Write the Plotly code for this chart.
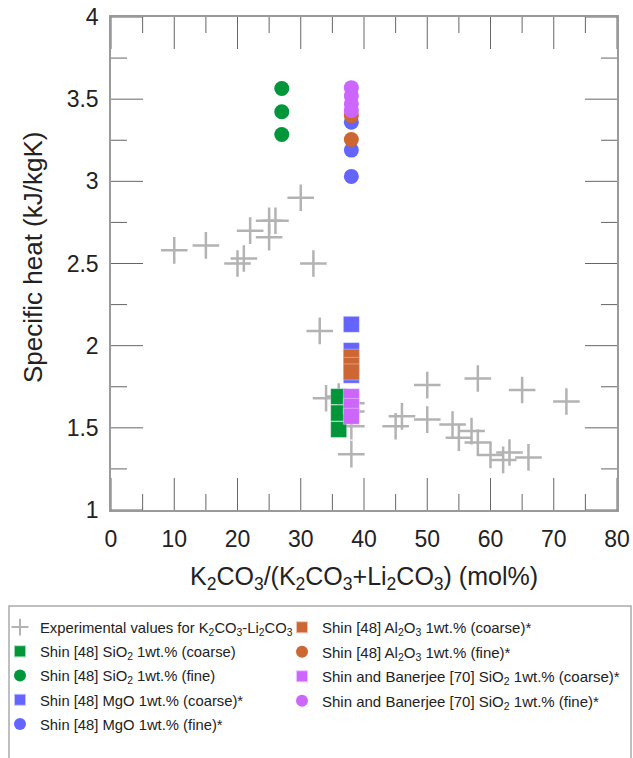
import plotly.graph_objects as go

# Experimental specific heat of K2CO3-Li2CO3 mixtures
exp_x = [10, 15, 20, 21, 22, 25, 25, 26, 30, 32, 33, 34, 36, 38, 38, 38, 38,
         45, 46, 50, 50, 54, 55, 57, 58, 58, 60, 62, 63, 65, 66, 72]
exp_y = [2.58, 2.61, 2.50, 2.53, 2.70, 2.66, 2.76, 2.76, 2.90, 2.50, 2.09, 1.68, 1.69, 1.60, 1.65, 1.51, 1.34,
         1.51, 1.57, 1.76, 1.55, 1.52, 1.44, 1.48, 1.41, 1.80, 1.335, 1.305, 1.35, 1.73, 1.32, 1.66]

# Nanofluid measurements (Shin [48], Shin and Banerjee [70])
sio2_coarse_x = [36, 36, 36]
sio2_coarse_y = [1.69, 1.59, 1.49]
sio2_fine_x = [27, 27, 27]
sio2_fine_y = [3.565, 3.423, 3.285]
mgo_coarse_x = [38, 38, 38, 38]
mgo_coarse_y = [2.13, 1.97, 1.90, 1.82]
mgo_fine_x = [38, 38, 38]
mgo_fine_y = [3.36, 3.19, 3.03]
al2o3_coarse_x = [38, 38, 38]
al2o3_coarse_y = [1.93, 1.88, 1.84]
al2o3_fine_x = [38, 38]
al2o3_fine_y = [3.40, 3.255]
sb_coarse_x = [38, 38, 38]
sb_coarse_y = [1.69, 1.63, 1.57]
sb_fine_x = [38, 38, 38, 38]
sb_fine_y = [3.57, 3.52, 3.47, 3.43]

x_ticks = [0, 10, 20, 30, 40, 50, 60, 70, 80]
y_ticks = [1, 1.5, 2, 2.5, 3, 3.5, 4]

GREEN = "#009639"
BLUE = "#6464ff"
ORANGE = "#cc6633"
MAGENTA = "#cc66ff"
FONT = "Liberation Sans, Arial, sans-serif"
TICK_COLOR = "#666666"
MAJOR_LEN, MINOR_LEN = 32, 16

x_range = [x_ticks[0], x_ticks[-1]]
y_range = [y_ticks[0], y_ticks[-1]]
x_minor = [(a + b) / 2 for a, b in zip(x_ticks[:-1], x_ticks[1:])]
y_minor = [(a + b) / 2 for a, b in zip(y_ticks[:-1], y_ticks[1:])]

fig = go.Figure()

fig.add_trace(go.Scatter(
    x=exp_x, y=exp_y, mode="markers",
    name="Experimental values for K<sub>2</sub>CO<sub>3</sub>-Li<sub>2</sub>CO<sub>3</sub>",
    marker=dict(symbol="cross-thin", size=19, line=dict(width=2.5, color="#b3b3b3")),
    legend="legend", legendgroup="g0",
))

series = [
    (sio2_coarse_x, sio2_coarse_y, "Shin [48] SiO<sub>2</sub> 1wt.% (coarse)", GREEN, "square", "legend"),
    (sio2_fine_x, sio2_fine_y, "Shin [48] SiO<sub>2</sub> 1wt.% (fine)", GREEN, "circle", "legend"),
    (mgo_coarse_x, mgo_coarse_y, "Shin [48] MgO 1wt.% (coarse)*", BLUE, "square", "legend"),
    (mgo_fine_x, mgo_fine_y, "Shin [48] MgO 1wt.% (fine)*", BLUE, "circle", "legend"),
    (al2o3_coarse_x, al2o3_coarse_y, "Shin [48] Al<sub>2</sub>O<sub>3</sub> 1wt.% (coarse)*", ORANGE, "square", "legend2"),
    (al2o3_fine_x, al2o3_fine_y, "Shin [48] Al<sub>2</sub>O<sub>3</sub> 1wt.% (fine)*", ORANGE, "circle", "legend2"),
    (sb_coarse_x, sb_coarse_y, "Shin and Banerjee [70] SiO<sub>2</sub> 1wt.% (coarse)*", MAGENTA, "square", "legend2"),
    (sb_fine_x, sb_fine_y, "Shin and Banerjee [70] SiO<sub>2</sub> 1wt.% (fine)*", MAGENTA, "circle", "legend2"),
]
for i, (xs, ys, name, color, sym, lg) in enumerate(series, start=1):
    fig.add_trace(go.Scatter(
        x=xs, y=ys, mode="markers", name=name, legend=lg, legendgroup="g%d" % i,
        marker=dict(symbol=sym, size=16 if sym == "square" else 15, color=color,
                    line=dict(width=0.6 if sym == "square" else 0, color="rgba(255,255,255,0.6)")),
    ))

# Axes carry the frame and tick labels; transparent outside ticks only space the labels
fig.update_layout(
    xaxis=dict(
        range=x_range, tickmode="array", tickvals=x_ticks, ticktext=[str(v) for v in x_ticks],
        ticks="outside", ticklen=8, tickcolor="rgba(0,0,0,0)",
        showline=True, linecolor="#9a9a9a", linewidth=1.5, mirror=True,
        showgrid=False, zeroline=False,
        tickfont=dict(family=FONT, size=23, color="#222222"),
        title=dict(text="K<sub>2</sub>CO<sub>3</sub>/(K<sub>2</sub>CO<sub>3</sub>+Li<sub>2</sub>CO<sub>3</sub>) (mol%)",
                   font=dict(family=FONT, size=25, color="#222222"), standoff=16),
    ),
    yaxis=dict(
        range=y_range, tickmode="array", tickvals=y_ticks, ticktext=[("%g" % v) for v in y_ticks],
        ticks="outside", ticklen=6, tickcolor="rgba(0,0,0,0)",
        showline=True, linecolor="#9a9a9a", linewidth=1.5, mirror=True,
        showgrid=False, zeroline=False,
        tickfont=dict(family=FONT, size=23, color="#222222"),
    ),
)

# Inward ticks on all four sides: long at labelled values, short halfway between
tick_shapes = []
for vals, length in ((x_ticks, MAJOR_LEN), (x_minor, MINOR_LEN)):
    for v in vals:
        for anchor, sgn in ((y_range[0], 1), (y_range[1], -1)):
            tick_shapes.append(dict(
                type="line", xref="x", yref="y", x0=v, x1=v,
                ysizemode="pixel", yanchor=anchor, y0=0, y1=sgn * length,
                line=dict(color=TICK_COLOR, width=1), layer="above"))
for vals, length in ((y_ticks, MAJOR_LEN), (y_minor, MINOR_LEN)):
    for v in vals:
        for anchor, sgn in ((x_range[0], 1), (x_range[1], -1)):
            tick_shapes.append(dict(
                type="line", xref="x", yref="y", y0=v, y1=v,
                xsizemode="pixel", xanchor=anchor, x0=0, x1=sgn * length,
                line=dict(color=TICK_COLOR, width=1), layer="above"))

legend_box = dict(type="rect", xref="paper", yref="paper",
                  x0=(9 - 111) / 506, x1=(631 - 111) / 506,
                  y0=(510 - 606) / 493, y1=(510 - 780) / 493,
                  line=dict(color="#aaaaaa", width=1.5), layer="above")

legend_common = dict(
    xref="container", yref="container", yanchor="top", xanchor="left",
    bgcolor="rgba(0,0,0,0)", borderwidth=0,
    itemsizing="constant", orientation="v",
    traceorder="grouped", tracegroupgap=2,
)

fig.update_layout(
    width=633, height=758,
    margin=dict(l=111, r=16, t=17, b=248, autoexpand=False),
    plot_bgcolor="white", paper_bgcolor="white",
    showlegend=True,
    legend=dict(x=0, y=1 - 611 / 758, font=dict(family=FONT, size=14.8, color="#222222"), **legend_common),
    legend2=dict(x=282 / 633, y=1 - 611 / 758, font=dict(family=FONT, size=15.0, color="#222222"), **legend_common),
    shapes=tick_shapes + [legend_box],
    annotations=[dict(
        text="Specific heat (kJ/kgK)", textangle=-90, showarrow=False,
        xref="paper", yref="paper", x=(33 - 111) / 506, y=(510 - 258) / 493,
        xanchor="center", yanchor="middle",
        font=dict(family=FONT, size=26, color="#222222"),
    )],
)

fig.write_html("out.html")
